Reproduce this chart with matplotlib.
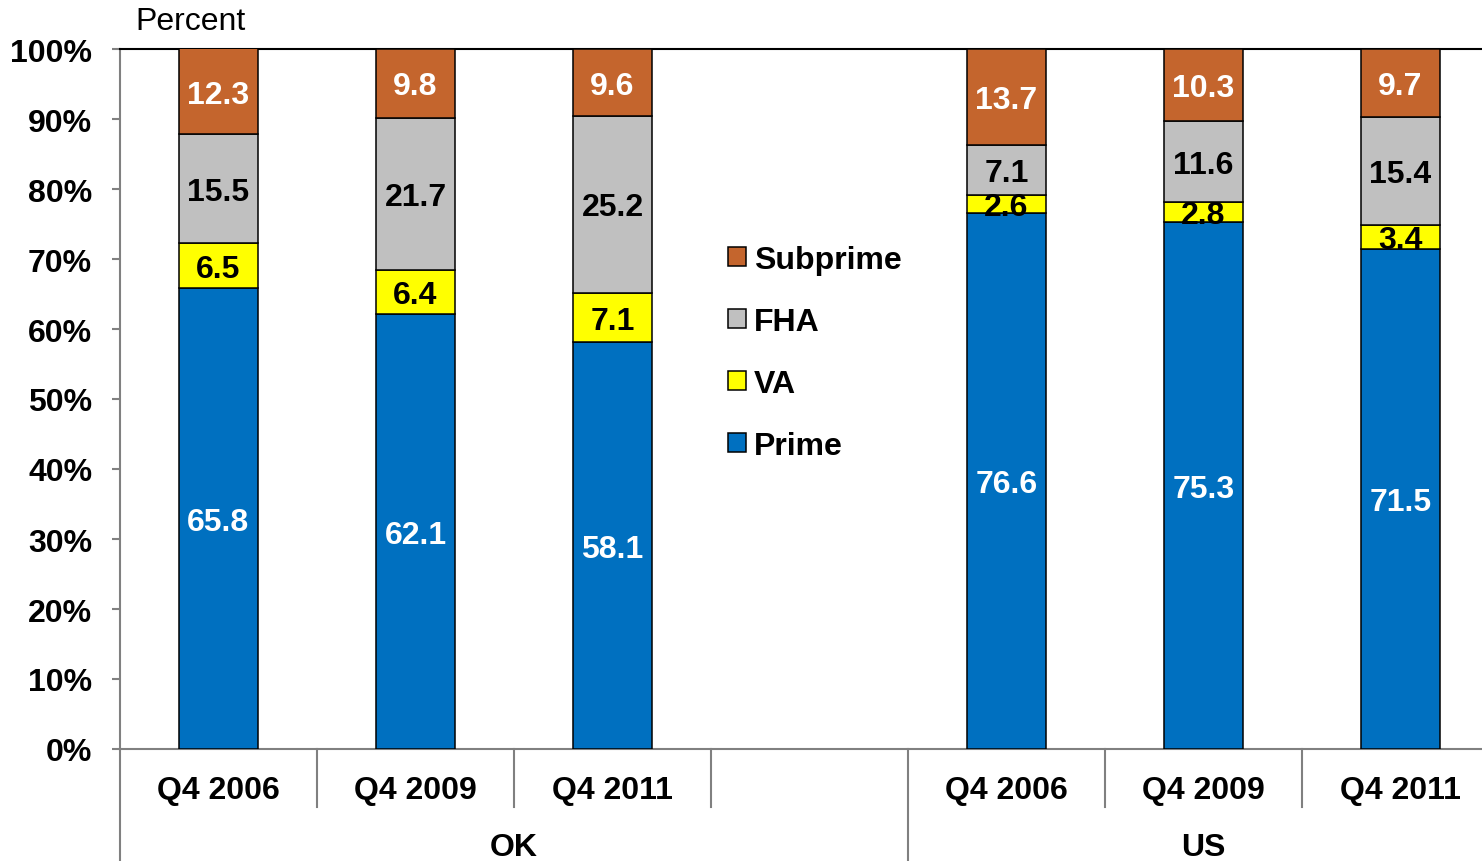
import matplotlib.pyplot as plt
import numpy as np

plt.rcParams["font.family"] = ["Liberation Sans", "DejaVu Sans"]

# data
periods = ["Q4 2006", "Q4 2009", "Q4 2011", "Q4 2006", "Q4 2009", "Q4 2011"]
groups = ["OK", "US"]
prime = [65.8, 62.1, 58.1, 76.6, 75.3, 71.5]
va = [6.5, 6.4, 7.1, 2.6, 2.8, 3.4]
fha = [15.5, 21.7, 25.2, 7.1, 11.6, 15.4]
subprime = [12.3, 9.8, 9.6, 13.7, 10.3, 9.7]

series = [
    ("Prime", prime, "#0070C0", "white"),
    ("VA", va, "#FFFF00", "black"),
    ("FHA", fha, "#C0C0C0", "black"),
    ("Subprime", subprime, "#C4652D", "white"),
]

pos = np.array([0, 1, 2, 4, 5, 6])
group_centers = [1.5, 5.0]

W, H = 1482, 862
fig = plt.figure(figsize=(W / 100, H / 100), dpi=100)
ax = fig.add_axes([120 / W, 112 / H, 1362 / W, 700 / H])

fs = 23
gray = "#808080"

bottom = np.zeros(len(pos))
containers = []
for name, vals, color, tcolor in series:
    bars = ax.bar(pos, vals, width=0.406, bottom=bottom, color=color,
                  edgecolor="black", linewidth=1.1, label=name, zorder=3)
    texts = ax.bar_label(bars, labels=[f"{v:.1f}" for v in vals], label_type="center",
                         color=tcolor, fontsize=fs, fontweight="bold", zorder=4)
    for t in texts:
        t.set_position((0, -2.2))  # nudge down a little, like the original
    containers.append(bars)
    bottom += np.array(vals)

ax.set_xlim(-0.5, 1362 / 197 - 0.5)
ax.set_ylim(0, 100)

# y axis
ax.set_yticks(np.arange(0, 101, 10))
ax.set_yticklabels([f"{v}%" for v in range(0, 101, 10)], fontsize=fs, fontweight="bold")
ax.tick_params(axis="y", direction="out", length=6, width=1.5, color=gray, pad=14)

# x axis: category labels under bars
ax.set_xticks(pos)
ax.set_xticklabels(periods, fontsize=fs, fontweight="bold")
ax.tick_params(axis="x", length=0, pad=19)

ax.spines["right"].set_visible(False)
ax.spines["left"].set_color(gray)
ax.spines["left"].set_linewidth(1.5)
ax.spines["bottom"].set_color(gray)
ax.spines["bottom"].set_linewidth(1.5)
ax.spines["top"].set_color("black")
ax.spines["top"].set_linewidth(1.5)

# separators between categories and groups
xt = ax.get_xaxis_transform()
for b in [0.5, 1.5, 2.5, 4.5, 5.5]:
    ax.plot([b, b], [0, -58 / 700], transform=xt, color=gray, lw=1.5, clip_on=False)
for b in [-0.5, 3.5]:
    ax.plot([b, b], [0, -112 / 700], transform=xt, color=gray, lw=1.5, clip_on=False)

for c, g in zip(group_centers, groups):
    ax.text(c, -98 / 700, g, transform=xt, ha="center", va="center",
            fontsize=fs, fontweight="bold")

ax.text(15 / 1362, 1 + 28 / 700, "Percent", transform=ax.transAxes,
        ha="left", va="center", fontsize=fs)

handles = containers[::-1]
leg = fig.legend(handles, [s[0] for s in series][::-1], loc="upper left",
                 bbox_to_anchor=(728 / W, 1 - 246 / H), frameon=False,
                 prop={"size": fs, "weight": "bold"}, handlelength=0.55,
                 handleheight=0.55, handletextpad=0.25, labelspacing=1.0,
                 borderpad=0, borderaxespad=0)

fig.savefig("out.png", dpi=100)
